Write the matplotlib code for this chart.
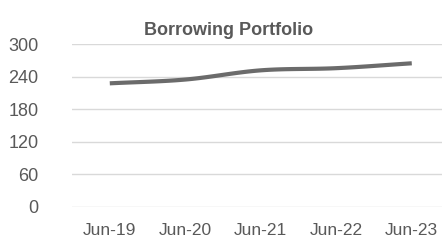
import numpy as np
import matplotlib
matplotlib.use("Agg")
import matplotlib.pyplot as plt

categories = ["Jun-19", "Jun-20", "Jun-21", "Jun-22", "Jun-23"]
values = [228, 235, 252, 256, 265]
yticks = [0, 60, 120, 180, 240, 300]

plt.rcParams['font.family'] = ['Liberation Sans', 'DejaVu Sans']

def smooth(x, y, n=30):
    x = np.asarray(x, float); y = np.asarray(y, float)
    px = np.concatenate([[2*x[0]-x[1]], x, [2*x[-1]-x[-2]]])
    py = np.concatenate([[2*y[0]-y[1]], y, [2*y[-1]-y[-2]]])
    xs, ys = [], []
    for i in range(1, len(px)-2):
        t = np.linspace(0, 1, n)
        for arr, out in ((px, xs), (py, ys)):
            p0, p1, p2, p3 = arr[i-1], arr[i], arr[i+1], arr[i+2]
            out.append(0.5*((2*p1) + (-p0+p2)*t + (2*p0-5*p1+4*p2-p3)*t**2 + (-p0+3*p1-3*p2+p3)*t**3))
    return np.concatenate(xs), np.concatenate(ys)

fig = plt.figure(figsize=(4.42, 2.41), dpi=100)
ax = fig.add_axes([0.163, 0.142, 0.854, 0.674])
x = np.arange(len(categories))
sx, sy = smooth(x, values)
ax.plot(sx, sy, color='#6b6b6b', lw=3.0, solid_capstyle='butt', zorder=3)
ax.set_xlim(-0.5, len(categories)-0.5)
ax.set_ylim(0, 300)
ax.set_yticks(yticks)
ax.set_xticks(x)
ax.set_xticklabels(categories)
ax.grid(axis='y', color='#d9d9d9', lw=1)
ax.set_axisbelow(True)
for s in ax.spines.values():
    s.set_visible(False)
ax.tick_params(length=0, colors='#595959', labelsize=13)
ax.tick_params(axis='y', pad=24)
ax.tick_params(axis='x', pad=12, labelsize=12.5)
fig.text(0.516, 0.875, "Borrowing Portfolio", ha='center', va='center',
         fontsize=13, fontweight='bold', color='#595959')
fig.savefig("out.png", dpi=100)
